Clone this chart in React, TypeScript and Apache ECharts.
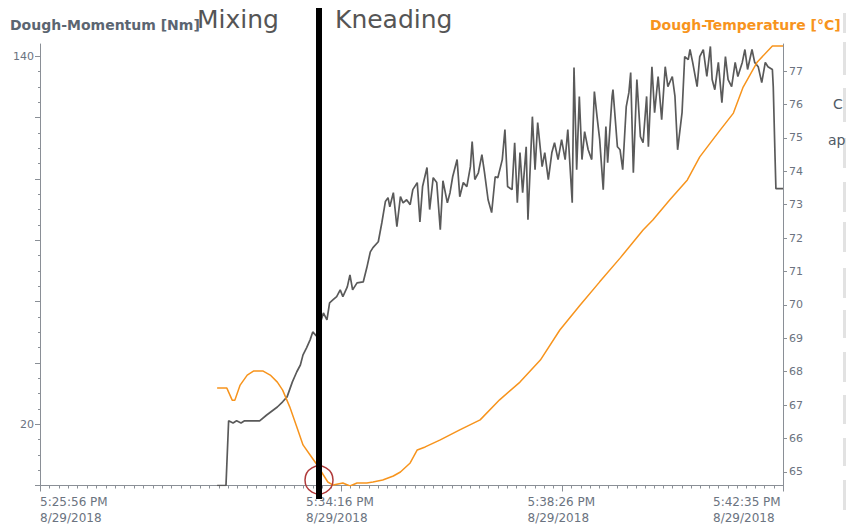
import React, { useEffect, useRef } from "react";
import * as echarts from "echarts";

// x values: seconds after 5:00:00 PM
const momentumTime = [
  1916, 1926, 1929, 1934, 1938, 1943, 1947, 1964, 1972, 1984, 1990, 1995, 2001, 2006, 2010, 2013, 2017, 2021, 2024, 2028,
  2036, 2040, 2043, 2047, 2051, 2055, 2058, 2063, 2066, 2069, 2074, 2081, 2085, 2089, 2092, 2098, 2102, 2106, 2109, 2111,
  2115, 2119, 2123, 2126, 2130, 2134, 2137, 2142, 2145, 2148, 2153, 2156, 2160, 2164, 2168, 2171, 2176, 2179, 2182, 2187,
  2190, 2194, 2198, 2202, 2204, 2207, 2211, 2215, 2218, 2222, 2226, 2230, 2233, 2238, 2241, 2244, 2249, 2252, 2255, 2258,
  2261, 2265, 2267, 2272, 2275, 2278, 2283, 2286, 2290, 2294, 2297, 2301, 2305, 2309, 2312, 2317, 2319, 2322, 2325, 2328,
  2331, 2335, 2339, 2342, 2345, 2348, 2352, 2355, 2357, 2362, 2363, 2368, 2371, 2374, 2378, 2381, 2383, 2386, 2390, 2394,
  2397, 2401, 2403, 2407, 2410, 2414, 2418, 2422, 2425, 2430, 2433, 2436, 2441, 2444, 2448, 2450, 2453, 2458, 2461, 2465,
  2469, 2473, 2475, 2478, 2482, 2486, 2490, 2493, 2497, 2501, 2504, 2509, 2512, 2515, 2520, 2523, 2527, 2531, 2535, 2538,
  2543, 2544, 2546, 2547, 2555,
];
const momentumValue = [
  0, 0, 21.1, 20.4, 21.1, 20.4, 21.1, 21.1, 23.0, 25.6, 27.3, 28.9, 33.8, 37.1, 39.3, 42.6, 44.9, 47.5, 50.1, 48.8,
  56.3, 54.0, 59.6, 60.6, 61.6, 63.8, 61.6, 64.8, 68.7, 63.8, 66.1, 66.4, 71.0, 76.2, 77.6, 79.5, 85.7, 92.6, 93.9, 90.9,
  95.5, 84.4, 94.2, 92.2, 93.2, 91.6, 96.5, 98.8, 86.0, 97.5, 103.7, 90.0, 100.4, 98.8, 83.4, 99.4, 92.2, 95.5, 100.7, 106.3,
  94.2, 98.8, 97.5, 104.0, 112.2, 99.8, 102.0, 107.9, 102.0, 93.2, 89.0, 100.7, 100.4, 106.3, 116.1, 97.5, 96.5, 111.8, 92.2, 108.6,
  95.5, 110.5, 86.7, 120.3, 103.0, 118.4, 104.0, 108.6, 99.8, 108.6, 111.8, 106.3, 112.8, 106.3, 116.1, 92.2, 136.3, 103.0, 126.9, 106.3,
  115.4, 109.5, 106.3, 128.5, 120.3, 112.8, 96.5, 117.1, 105.3, 126.9, 129.1, 110.5, 109.5, 103.0, 123.6, 128.2, 134.7, 102.0, 132.4, 113.8,
  111.8, 126.9, 110.5, 136.6, 121.6, 133.4, 119.3, 136.6, 130.1, 133.4, 126.9, 109.5, 121.6, 139.9, 138.9, 142.2, 138.0, 130.1, 139.9, 142.2,
  133.4, 143.2, 132.4, 129.1, 138.0, 124.9, 139.9, 132.4, 130.1, 138.0, 133.4, 138.0, 142.2, 135.7, 142.2, 138.0, 136.6, 131.4, 138.0, 136.6,
  135.7, 130.1, 107.3, 96.8, 96.8,
];

const temperatureTime = [
  1916, 1927, 1933, 1936, 1942, 1950, 1957, 1968, 1976, 1984, 1990, 1998, 2006, 2013, 2021, 2029, 2036, 2041, 2047, 2058,
  2066, 2074, 2085, 2092, 2103, 2115, 2123, 2134, 2142, 2151, 2168, 2190, 2213, 2235, 2258, 2281, 2303, 2326, 2348, 2371,
  2397, 2408, 2427, 2447, 2461, 2473, 2484, 2499, 2510, 2526, 2543, 2555,
];
const temperatureValue = [
  67.51, 67.51, 67.15, 67.15, 67.6, 67.9, 68.02, 68.02, 67.9, 67.69, 67.45, 66.95, 66.35, 65.81, 65.51, 65.21, 64.91, 64.7, 64.61, 64.67,
  64.58, 64.67, 64.67, 64.7, 64.76, 64.88, 65.0, 65.27, 65.66, 65.75, 65.96, 66.26, 66.56, 67.16, 67.69, 68.35, 69.25, 70.0, 70.69, 71.4,
  72.24, 72.54, 73.14, 73.74, 74.43, 74.85, 75.23, 75.74, 76.52, 77.27, 77.75, 77.75,
];

const xTickValues = [1716, 2056, 2306, 2555];
const xTickTimes = ["5:25:56 PM", "5:34:16 PM", "5:38:26 PM", "5:42:35 PM"];
const xTickDate = "8/29/2018";
const leftLabelValues = [20, 140];
const leftMajorTicks = [0, 20, 40, 60, 80, 100, 120, 140];
const rightTickValues = [65, 66, 67, 68, 69, 70, 71, 72, 73, 74, 75, 76, 77];
const phaseLabels = ["Mixing", "Kneading"];
const leftTitle = "Dough-Momentum [Nm]";
const rightTitle = "Dough-Temperature [°C]";

const FONT = "DejaVu Sans";
const LABEL = "#6b7380";
const AXIS = "#8a8f96";

export default function App() {
  const ref = useRef<HTMLDivElement>(null);
  useEffect(() => {
    if (!ref.current) return;
    const chart = echarts.init(ref.current, null, { renderer: "svg" });

    const minorX: number[] = [];
    const parts = [32, 24, 24];
    for (let s = 0; s < 3; s++) {
      const a = xTickValues[s], b = xTickValues[s + 1];
      for (let k = 1; k < parts[s]; k++) minorX.push(a + ((b - a) * k) / parts[s]);
    }
    const minorY: number[] = [];
    for (let v = 0; v <= 140; v += 5) minorY.push(v);

    const xMin = xTickValues[0], xMax = xTickValues[3];
    const stripes = [[13, 33], [42, 75], [88, 122], [138, 168], [182, 212], [222, 252], [268, 298], [310, 338], [352, 382], [395, 424], [438, 466], [480, 510]];

    chart.setOption({
      animation: false,
      grid: { left: 40, right: 63, top: 44, bottom: 41.5, containLabel: false },
      xAxis: [
        {
          type: "value", min: xMin, max: xMax, position: "bottom",
          axisLine: { lineStyle: { color: AXIS, width: 1 } },
          axisTick: { customValues: xTickValues, length: 6, lineStyle: { color: AXIS } },
          splitLine: { show: false },
          axisLabel: {
            customValues: xTickValues, margin: 8, alignMinLabel: "left", alignMaxLabel: "right",
            formatter: (v: number) => {
              const i = xTickValues.findIndex((t) => Math.abs(t - v) < 0.5);
              return i < 0 ? "" : `{a|${xTickTimes[i]}}\n{a|${xTickDate}}`;
            },
            rich: { a: { width: 70, align: "left", fontSize: 12, fontFamily: FONT, color: LABEL, lineHeight: 16 } },
          },
        },
        {
          type: "value", min: xMin, max: xMax, position: "bottom",
          axisLine: { show: false },
          axisTick: { customValues: minorX, length: 3, lineStyle: { color: AXIS } },
          axisLabel: { show: false }, splitLine: { show: false },
        },
      ],
      yAxis: [
        {
          type: "value", min: 0, max: 144, position: "left",
          axisLine: { show: true, lineStyle: { color: AXIS } },
          axisTick: { show: true, customValues: leftMajorTicks, length: 5, lineStyle: { color: AXIS } },
          axisLabel: { customValues: leftLabelValues, fontSize: 11, fontFamily: FONT, color: LABEL, margin: 6 },
          splitLine: { show: false },
        },
        {
          type: "value", min: 0, max: 144, position: "left",
          axisLine: { show: false },
          axisTick: { show: true, customValues: minorY, length: 2, lineStyle: { color: AXIS } },
          axisLabel: { show: false }, splitLine: { show: false },
        },
        {
          type: "value", min: 64.596, max: 77.808, position: "right",
          axisLine: { show: true, lineStyle: { color: AXIS } },
          axisTick: { show: true, customValues: rightTickValues, length: 4, lineStyle: { color: AXIS } },
          axisLabel: { customValues: rightTickValues, fontSize: 11, fontFamily: FONT, color: LABEL, margin: 6 },
          splitLine: { show: false },
        },
      ],
      series: [
        {
          name: leftTitle, type: "line", xAxisIndex: 0, yAxisIndex: 0, showSymbol: false, symbol: "none",
          lineStyle: { color: "#5a5a5a", width: 1.7 },
          data: momentumTime.map((t, i) => [t, momentumValue[i]]),
        },
        {
          name: rightTitle, type: "line", xAxisIndex: 0, yAxisIndex: 2, showSymbol: false, symbol: "none",
          lineStyle: { color: "#f7941d", width: 1.5 },
          data: temperatureTime.map((t, i) => [t, temperatureValue[i]]),
        },
      ],
      graphic: [
        ...stripes.map(([a, b]) => ({ type: "rect", shape: { x: 843, y: a, width: 4, height: b - a }, style: { fill: "#e2e2e2" } })),
        { type: "text", x: 833, y: 104, style: { text: "C", fontSize: 14, fontFamily: FONT, fill: "#4f5a66", verticalAlign: "middle" } },
        { type: "text", x: 828, y: 140, style: { text: "ap", fontSize: 14, fontFamily: FONT, fill: "#4f5a66", verticalAlign: "middle" } },
        { type: "text", x: 10, y: 25, style: { text: leftTitle, fontSize: 14, fontWeight: "bold", fontFamily: FONT, fill: "#5b6571", verticalAlign: "middle" } },
        { type: "text", x: 650, y: 25, style: { text: rightTitle, fontSize: 14, fontWeight: "bold", fontFamily: FONT, fill: "#f7941d", verticalAlign: "middle" } },
        { type: "text", x: 197, y: 19.5, style: { text: phaseLabels[0], fontSize: 25, fontFamily: FONT, fill: "#555", verticalAlign: "middle" } },
        { type: "text", x: 335, y: 19.5, style: { text: phaseLabels[1], fontSize: 25, fontFamily: FONT, fill: "#555", verticalAlign: "middle" } },
        { type: "circle", z: 99, shape: { cx: 319, cy: 480, r: 14 }, style: { stroke: "#b03a3a", fill: "none", lineWidth: 1.5 } },
        { type: "line", z: 100, shape: { x1: 319, y1: 8, x2: 319, y2: 499 }, style: { stroke: "#000", lineWidth: 6 } },
      ],
    });
    return () => chart.dispose();
  }, []);
  return <div ref={ref} style={{ position: "fixed", left: 0, top: 0, width: 846, height: 527, background: "#fff" }} />;
}
